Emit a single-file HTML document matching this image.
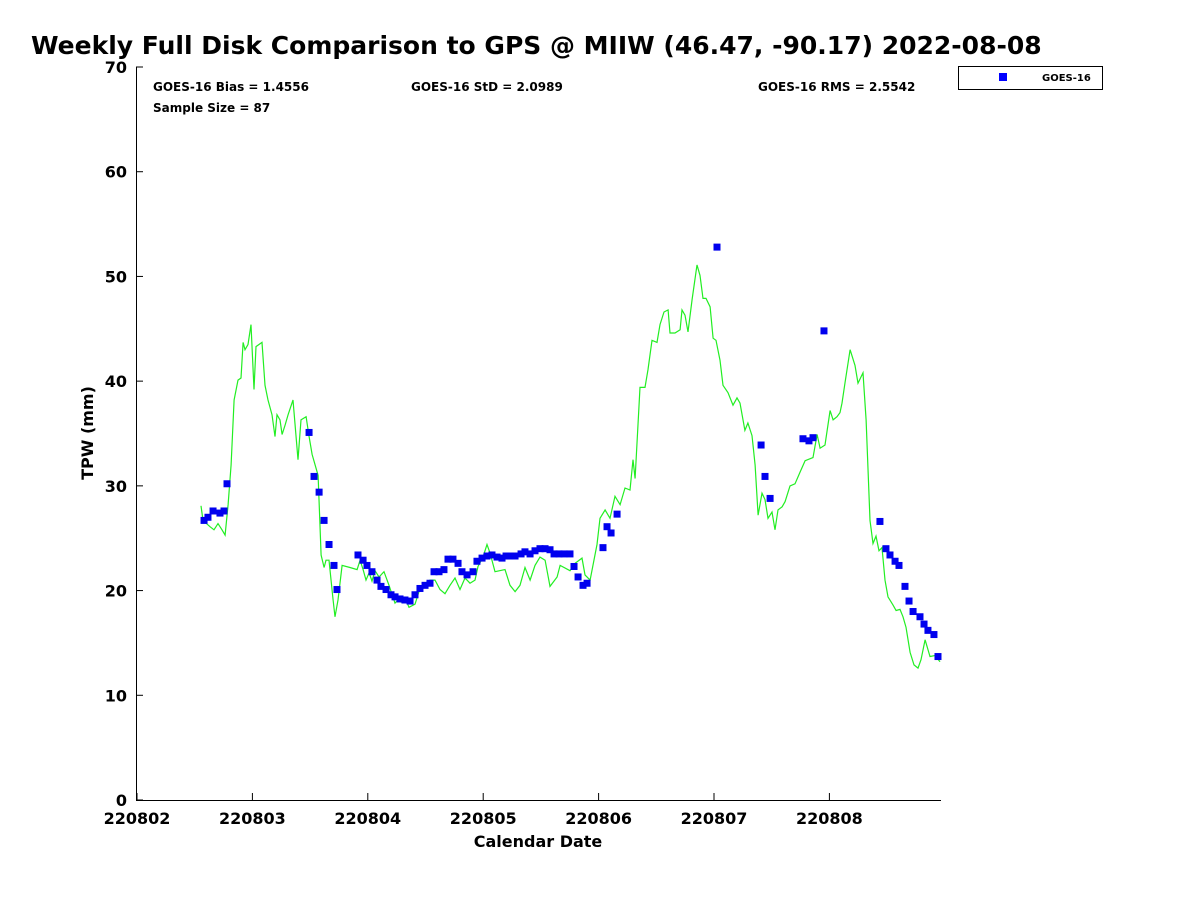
<!DOCTYPE html>
<html><head><meta charset="utf-8"><style>
body{margin:0;background:#fff;}
svg{display:block;font-family:"DejaVu Sans","Liberation Sans",sans-serif;font-weight:bold;}
</style></head><body>
<svg id="c" width="1200" height="900" viewBox="0 0 1200 900">
<text x="31" y="54" font-size="25">Weekly Full Disk Comparison to GPS @ MIIW (46.47, -90.17) 2022-08-08</text>
<text x="153" y="91" font-size="12">GOES-16 Bias = 1.4556</text>
<text x="411" y="91" font-size="12">GOES-16 StD = 2.0989</text>
<text x="758" y="91" font-size="12">GOES-16 RMS = 2.5542</text>
<text x="153" y="112" font-size="12">Sample Size = 87</text>
<g>
<rect x="958.5" y="66.5" width="144" height="23" fill="#fff" stroke="#000" stroke-width="1"/>
<rect x="999" y="73" width="8" height="8" fill="#0000ff"/>
<text x="1042" y="81" font-size="10">GOES-16</text>
</g>
<text transform="translate(93,433) rotate(-90)" text-anchor="middle" font-size="16">TPW (mm)</text>
<text x="538" y="847" text-anchor="middle" font-size="16">Calendar Date</text>
<g id="axes"></g>
<g id="marks"></g>
</svg>
<script>
const xTickLabels=["220802","220803","220804","220805","220806","220807","220808"];
const yTickValues=[0,10,20,30,40,50,60,70];
const gpsDays=[0.555,0.572,0.633,0.667,0.702,0.737,0.763,0.789,0.815,0.841,0.875,0.901,0.919,0.936,0.962,0.988,1.014,1.031,1.083,1.109,1.135,1.170,1.196,1.213,1.239,1.257,1.283,1.309,1.352,1.395,1.421,1.465,1.491,1.517,1.569,1.595,1.621,1.638,1.664,1.699,1.716,1.742,1.777,1.846,1.907,1.933,1.959,1.984,2.011,2.036,2.062,2.097,2.140,2.184,2.236,2.262,2.288,2.322,2.357,2.409,2.452,2.496,2.539,2.582,2.626,2.669,2.712,2.756,2.799,2.842,2.886,2.929,2.955,2.998,3.033,3.059,3.102,3.189,3.232,3.276,3.319,3.362,3.406,3.449,3.492,3.536,3.579,3.640,3.666,3.752,3.796,3.856,3.882,3.926,3.986,4.012,4.056,4.099,4.142,4.186,4.229,4.272,4.298,4.316,4.359,4.402,4.428,4.463,4.506,4.532,4.567,4.602,4.619,4.662,4.706,4.723,4.749,4.775,4.810,4.853,4.879,4.905,4.931,4.966,4.992,5.017,5.052,5.078,5.121,5.165,5.199,5.225,5.268,5.294,5.329,5.356,5.382,5.416,5.442,5.468,5.503,5.529,5.555,5.590,5.616,5.659,5.702,5.745,5.789,5.858,5.893,5.919,5.962,6.006,6.032,6.066,6.092,6.109,6.136,6.179,6.222,6.248,6.291,6.318,6.352,6.378,6.404,6.430,6.456,6.482,6.508,6.552,6.578,6.612,6.638,6.664,6.699,6.733,6.768,6.794,6.829,6.872,6.915,6.958];
const gpsTpw=[28.1,26.7,26.1,25.8,26.4,25.8,25.3,28.2,32,38.2,40.1,40.3,43.7,43,43.5,45.4,39.2,43.3,43.7,39.6,38.2,36.8,34.7,36.8,36.3,34.9,35.8,36.8,38.2,32.5,36.3,36.6,34.7,33,31,23.4,22.2,22.9,22.9,19.1,17.5,19.1,22.4,22.2,22,22.9,22,21,21.7,20.9,21.9,21.3,21.8,20.5,18.8,19.1,18.9,19.3,18.4,18.7,20.2,20.7,21,21,20.1,19.7,20.5,21.2,20.1,21.2,20.7,21,22.3,23.2,24.4,23.6,21.8,22,20.5,19.9,20.5,22.2,21,22.4,23.2,22.9,20.4,21.3,22.4,21.9,22.6,23.1,21.5,21,24.4,26.9,27.7,26.9,29,28.2,29.8,29.6,32.5,30.7,39.4,39.4,41.1,43.9,43.7,45.4,46.6,46.8,44.6,44.6,44.9,46.8,46.3,44.7,47.8,51.1,50.1,47.9,47.9,47.1,44.1,43.9,42,39.6,38.9,37.7,38.4,37.9,35.3,36,34.8,32,27.2,29.3,28.7,26.9,27.5,25.8,27.7,28,28.5,30,30.2,31.3,32.4,32.7,34.9,33.6,33.9,37.2,36.3,36.6,37,37.9,39.9,43,41.5,39.8,40.8,36.3,26.7,24.5,25.2,23.8,24.1,21,19.4,18.6,18.1,18.2,17.5,16.5,14.1,12.9,12.6,13.4,15.3,13.7,13.8,13.2];
const goesDays=[0.581,0.615,0.659,0.719,0.754,0.780,1.491,1.534,1.578,1.621,1.664,1.707,1.733,1.915,1.959,1.993,2.036,2.080,2.114,2.158,2.201,2.236,2.279,2.322,2.366,2.409,2.452,2.496,2.539,2.574,2.617,2.660,2.695,2.738,2.782,2.816,2.860,2.912,2.946,2.990,3.033,3.076,3.120,3.163,3.198,3.232,3.276,3.328,3.362,3.406,3.449,3.492,3.536,3.579,3.614,3.657,3.700,3.752,3.787,3.822,3.865,3.900,4.038,4.073,4.108,4.160,5.026,5.408,5.442,5.486,5.771,5.823,5.858,5.953,6.438,6.490,6.525,6.569,6.603,6.655,6.690,6.725,6.785,6.820,6.854,6.906,6.941];
const goesTpw=[26.7,27,27.6,27.4,27.6,30.2,35.1,30.9,29.4,26.7,24.4,22.4,20.1,23.4,22.9,22.4,21.8,21,20.4,20.1,19.6,19.4,19.2,19.1,19,19.6,20.2,20.5,20.7,21.8,21.8,22,23,23,22.6,21.8,21.5,21.8,22.8,23.1,23.3,23.4,23.2,23.1,23.3,23.3,23.3,23.5,23.7,23.5,23.8,24,24,23.9,23.5,23.5,23.5,23.5,22.3,21.3,20.5,20.7,24.1,26.1,25.5,27.3,52.8,33.9,30.9,28.8,34.5,34.3,34.6,44.8,26.6,24,23.4,22.8,22.4,20.4,19,18,17.5,16.8,16.2,15.8,13.7];
const NS="http://www.w3.org/2000/svg";
const X0=137,PXD=115.4,Y0=800,PXV=733/70,XR=941;
function xs(d){return X0+d*PXD;}
function ys(v){return Y0-v*PXV;}
function mk(tag,at,parent){const e=document.createElementNS(NS,tag);for(const k in at)e.setAttribute(k,at[k]);parent.appendChild(e);return e;}
const ax=document.getElementById('axes'),mg=document.getElementById('marks');
let e=mk('line',{x1:136.5,y1:ys(70),x2:136.5,y2:800.5,stroke:'#000','stroke-width':1},ax);


e=mk('line',{x1:136,y1:800.5,x2:XR,y2:800.5,stroke:'#000','stroke-width':1},ax);


yTickValues.forEach(v=>{
 const y=ys(v);
 const t=mk('line',{x1:136,y1:y,x2:143,y2:y,stroke:'#000'},ax);
 
 
 const l=mk('text',{x:127,y:y+6,'text-anchor':'end','font-size':16},ax);
 l.textContent=v;
 
 
});
xTickLabels.forEach((s,i)=>{
 const x=xs(i);
 const t=mk('line',{x1:x,y1:800,x2:x,y2:793,stroke:'#000'},ax);
 
 
 const l=mk('text',{x:x,y:824,'text-anchor':'middle','font-size':16},ax);
 l.textContent=s;
 
 
});
const pl=mk('polyline',{points:gpsDays.map((d,i)=>xs(d).toFixed(1)+','+ys(gpsTpw[i]).toFixed(1)).join(' '),fill:'none',stroke:'#22ee22','stroke-width':1.2},mg);


goesDays.forEach((d,i)=>{
 const r=mk('rect',{x:xs(d)-3.5,y:ys(goesTpw[i])-3.5,width:7,height:7,fill:'#0000ee'},mg);
 
 
});
</script>
</body></html>
